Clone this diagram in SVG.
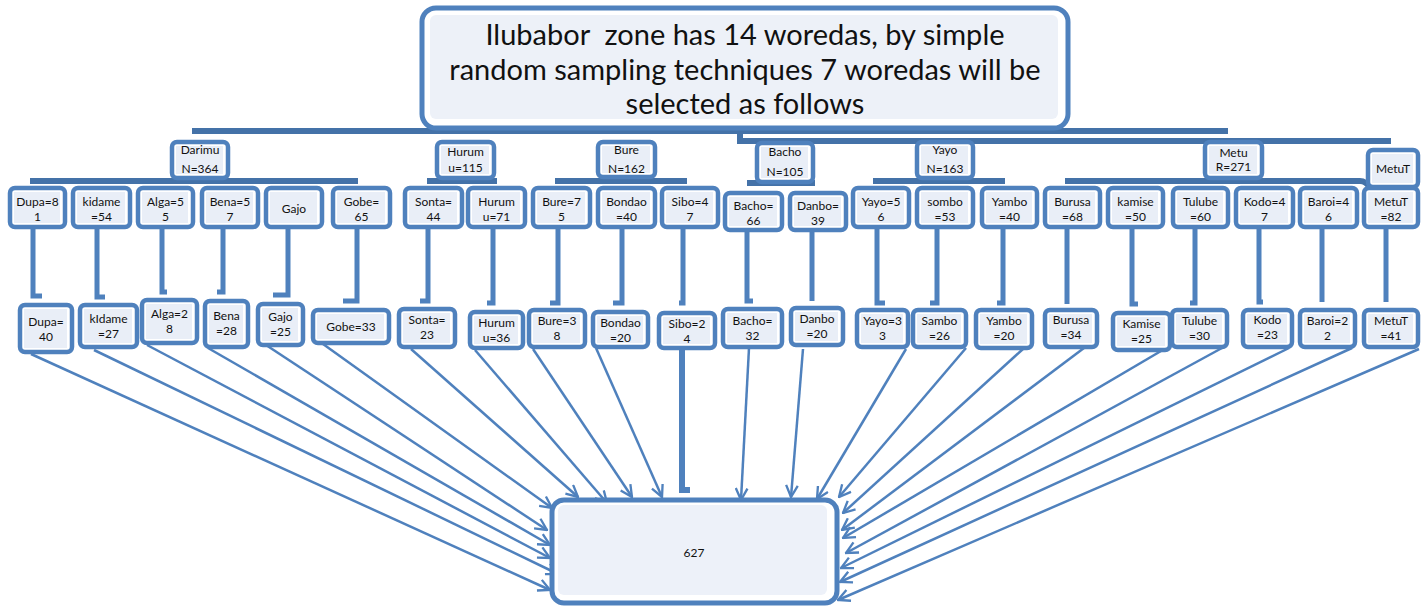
<svg xmlns="http://www.w3.org/2000/svg" width="1421" height="606" viewBox="0 0 1421 606">
<style>
.b{fill:#fff;stroke:#4F81BD;stroke-width:4.5}
.in{fill:#E9EEF7}
.t{font-family:Lato,"Liberation Sans",sans-serif;font-size:12px;fill:#111;text-anchor:middle}
.tt{font-family:Lato,"Liberation Sans",sans-serif;font-size:29px;fill:#111;text-anchor:middle;white-space:pre}
.c{fill:none;stroke:#4F81BD;stroke-width:5}
.bar{fill:none;stroke:#4472A8;stroke-width:6}
.a{fill:none;stroke:#4F81BD;stroke-width:2.5;marker-end:url(#arr)}
</style>
<defs>
<marker id="arr" viewBox="0 0 12 12" refX="11" refY="6" markerWidth="14" markerHeight="14" markerUnits="userSpaceOnUse" orient="auto">
<path d="M1,1 L11,6 L1,11" fill="none" stroke="#4F81BD" stroke-width="2"/>
</marker>
</defs>
<rect width="1421" height="606" fill="#fff"/>

<g id="connectors">
<path class="bar" d="M192,131 H1228"/>
<path class="bar" d="M740,131 V141 H1391"/>
<path class="bar" d="M30,181 H358"/>
<path class="bar" d="M427,181 H497"/>
<path class="bar" d="M555,181 H687"/>
<path class="bar" d="M747,183 H815"/>
<path class="bar" d="M873,181 H1005"/>
<path class="bar" d="M1065,181 H1360 Q1366,181 1370,188"/>
<path class="c" d="M33,227 V296 H42"/>
<path class="c" d="M97,227 V297 H105"/>
<path class="c" d="M162,227 V292 H167"/>
<path class="c" d="M223,227 V292 H217"/>
<path class="c" d="M288,227 V295 H273"/>
<path class="c" d="M357,227 V301 H343"/>
<path class="c" d="M428,227 V301 H420"/>
<path class="c" d="M493,227 V303 H487"/>
<path class="c" d="M558,227 V303 H550"/>
<path class="c" d="M622,227 V303 H613"/>
<path class="c" d="M683,227 V303 H679"/>
<path class="c" d="M747,230 V301 H753"/>
<path class="c" d="M812,230 V301"/>
<path class="c" d="M877,227 V303 H885"/>
<path class="c" d="M937,227 V303 H930"/>
<path class="c" d="M1003,227 V303 H997"/>
<path class="c" d="M1067,227 V304"/>
<path class="c" d="M1132,227 V304 H1138"/>
<path class="c" d="M1195,227 V303 H1190"/>
<path class="c" d="M1259,227 V302 H1263"/>
<path class="c" d="M1322,227 V302"/>
<path class="c" d="M1386,227 V302"/>
<path class="c" style="stroke-width:6" d="M682,350 V490 H690"/>
<path class="a" d="M31,354 L550,590"/>
<path class="a" d="M94,350 L558,574"/>
<path class="a" d="M147,345 L550,558"/>
<path class="a" d="M208,348 L550,545"/>
<path class="a" d="M266,345 L547,530"/>
<path class="a" d="M323,344 L552,508"/>
<path class="a" d="M411,349 L578,497"/>
<path class="a" d="M475,350 L607,503"/>
<path class="a" d="M533,349 L632,497"/>
<path class="a" d="M596,348 L662,497"/>
<path class="a" d="M749,348 L741,500"/>
<path class="a" d="M803,349 L791,497"/>
<path class="a" d="M906,349 L817,499"/>
<path class="a" d="M966,348 L839,497"/>
<path class="a" d="M1023,349 L843,513"/>
<path class="a" d="M1084,348 L842,530"/>
<path class="a" d="M1161,351 L843,538"/>
<path class="a" d="M1222,348 L846,553"/>
<path class="a" d="M1289,348 L841,568"/>
<path class="a" d="M1352,348 L840,582"/>
<path class="a" d="M1419,349 L838,600"/>
</g>

<g id="title"><rect class="b" style="stroke-width:5" x="422" y="8" width="646" height="120" rx="14"/><rect class="in" style="fill:#EDF1F8" x="430" y="15" width="628" height="104" rx="6"/>
<text class="tt" x="745" y="45" xml:space="preserve">Ilubabor  zone has 14 woredas, by simple</text>
<text class="tt" x="745" y="80">random sampling techniques 7 woredas will be</text>
<text class="tt" x="745" y="114">selected as follows</text></g>

<g id="w-darimu"><rect class="b" x="172" y="142" width="56" height="36" rx="5"/><rect class="in" x="176" y="146" width="47" height="28"/><text class="t" x="200" y="154">Darimu</text><text class="t" x="200" y="173">N=364</text></g>
<g id="w-hurum"><rect class="b" x="437" y="142" width="57" height="36" rx="5"/><rect class="in" x="441" y="146" width="48" height="28"/><text class="t" x="465.5" y="156">Hurum</text><text class="t" x="465.5" y="172">u=115</text></g>
<g id="w-bure"><rect class="b" x="598" y="142" width="57" height="35" rx="5"/><rect class="in" x="602" y="146" width="48" height="27"/><text class="t" x="626.5" y="154">Bure</text><text class="t" x="626.5" y="173">N=162</text></g>
<g id="w-bacho"><rect class="b" x="757" y="143" width="56" height="39" rx="5"/><rect class="in" x="761" y="147" width="47" height="31"/><text class="t" x="785" y="156">Bacho</text><text class="t" x="785" y="176">N=105</text></g>
<g id="w-yayo"><rect class="b" x="917" y="142" width="56" height="36" rx="5"/><rect class="in" x="921" y="146" width="47" height="28"/><text class="t" x="945" y="154">Yayo</text><text class="t" x="945" y="173">N=163</text></g>
<g id="w-metu"><rect class="b" x="1205" y="142" width="57" height="36" rx="5"/><rect class="in" x="1209" y="146" width="48" height="28"/><text class="t" x="1233.5" y="157">Metu</text><text class="t" x="1233.5" y="171">R=271</text></g>
<g id="w-metut"><rect class="b" x="1368" y="150" width="50" height="37" rx="5"/><rect class="in" x="1372" y="154" width="41" height="29"/><text class="t" x="1393" y="173">MetuT</text></g>

<g id="k-dupa"><rect class="b" x="10" y="188" width="55" height="39" rx="5"/><rect class="in" x="14" y="192" width="46" height="31"/><text class="t" x="37.5" y="206">Dupa=8</text><text class="t" x="37.5" y="221">1</text></g>
<g id="k-kidame"><rect class="b" x="73" y="188" width="57" height="39" rx="5"/><rect class="in" x="77" y="192" width="48" height="31"/><text class="t" x="101.5" y="206">kidame</text><text class="t" x="101.5" y="221">=54</text></g>
<g id="k-alga"><rect class="b" x="138" y="188" width="55" height="39" rx="5"/><rect class="in" x="142" y="192" width="46" height="31"/><text class="t" x="165.5" y="206">Alga=5</text><text class="t" x="165.5" y="221">5</text></g>
<g id="k-bena"><rect class="b" x="202" y="188" width="56" height="39" rx="5"/><rect class="in" x="206" y="192" width="47" height="31"/><text class="t" x="230" y="206">Bena=5</text><text class="t" x="230" y="221">7</text></g>
<g id="k-gajo"><rect class="b" x="266" y="188" width="56" height="39" rx="5"/><rect class="in" x="270" y="192" width="47" height="31"/><text class="t" x="294" y="213">Gajo</text></g>
<g id="k-gobe"><rect class="b" x="333" y="188" width="57" height="39" rx="5"/><rect class="in" x="337" y="192" width="48" height="31"/><text class="t" x="361.5" y="206">Gobe=</text><text class="t" x="361.5" y="221">65</text></g>
<g id="k-sonta"><rect class="b" x="405" y="188" width="57" height="39" rx="5"/><rect class="in" x="409" y="192" width="48" height="31"/><text class="t" x="433.5" y="206">Sonta=</text><text class="t" x="433.5" y="221">44</text></g>
<g id="k-hurum"><rect class="b" x="468" y="188" width="57" height="39" rx="5"/><rect class="in" x="472" y="192" width="48" height="31"/><text class="t" x="496.5" y="206">Hurum</text><text class="t" x="496.5" y="221">u=71</text></g>
<g id="k-bure"><rect class="b" x="533" y="188" width="57" height="39" rx="5"/><rect class="in" x="537" y="192" width="48" height="31"/><text class="t" x="561.5" y="206">Bure=7</text><text class="t" x="561.5" y="221">5</text></g>
<g id="k-bondao"><rect class="b" x="598" y="188" width="57" height="39" rx="5"/><rect class="in" x="602" y="192" width="48" height="31"/><text class="t" x="626.5" y="206">Bondao</text><text class="t" x="626.5" y="221">=40</text></g>
<g id="k-sibo"><rect class="b" x="662" y="188" width="56" height="39" rx="5"/><rect class="in" x="666" y="192" width="47" height="31"/><text class="t" x="690" y="206">Sibo=4</text><text class="t" x="690" y="221">7</text></g>
<g id="k-bacho"><rect class="b" x="725" y="193" width="57" height="37" rx="5"/><rect class="in" x="729" y="197" width="48" height="29"/><text class="t" x="753.5" y="210">Bacho=</text><text class="t" x="753.5" y="225">66</text></g>
<g id="k-danbo"><rect class="b" x="790" y="193" width="56" height="37" rx="5"/><rect class="in" x="794" y="197" width="47" height="29"/><text class="t" x="818" y="210">Danbo=</text><text class="t" x="818" y="225">39</text></g>
<g id="k-yayo"><rect class="b" x="853" y="188" width="56" height="39" rx="5"/><rect class="in" x="857" y="192" width="47" height="31"/><text class="t" x="881" y="206">Yayo=5</text><text class="t" x="881" y="221">6</text></g>
<g id="k-sombo"><rect class="b" x="917" y="188" width="56" height="39" rx="5"/><rect class="in" x="921" y="192" width="47" height="31"/><text class="t" x="945" y="206">sombo</text><text class="t" x="945" y="221">=53</text></g>
<g id="k-yambo"><rect class="b" x="982" y="188" width="55" height="39" rx="5"/><rect class="in" x="986" y="192" width="46" height="31"/><text class="t" x="1009.5" y="206">Yambo</text><text class="t" x="1009.5" y="221">=40</text></g>
<g id="k-burusa"><rect class="b" x="1045" y="188" width="55" height="39" rx="5"/><rect class="in" x="1049" y="192" width="46" height="31"/><text class="t" x="1072.5" y="206">Burusa</text><text class="t" x="1072.5" y="221">=68</text></g>
<g id="k-kamise"><rect class="b" x="1108" y="188" width="55" height="39" rx="5"/><rect class="in" x="1112" y="192" width="46" height="31"/><text class="t" x="1135.5" y="206">kamise</text><text class="t" x="1135.5" y="221">=50</text></g>
<g id="k-tulube"><rect class="b" x="1173" y="188" width="55" height="39" rx="5"/><rect class="in" x="1177" y="192" width="46" height="31"/><text class="t" x="1200.5" y="206">Tulube</text><text class="t" x="1200.5" y="221">=60</text></g>
<g id="k-kodo"><rect class="b" x="1236" y="188" width="57" height="39" rx="5"/><rect class="in" x="1240" y="192" width="48" height="31"/><text class="t" x="1264.5" y="206">Kodo=4</text><text class="t" x="1264.5" y="221">7</text></g>
<g id="k-baroi"><rect class="b" x="1300" y="188" width="57" height="39" rx="5"/><rect class="in" x="1304" y="192" width="48" height="31"/><text class="t" x="1328.5" y="206">Baroi=4</text><text class="t" x="1328.5" y="221">6</text></g>
<g id="k-metut"><rect class="b" x="1364" y="188" width="54" height="39" rx="5"/><rect class="in" x="1368" y="192" width="45" height="31"/><text class="t" x="1391" y="206">MetuT</text><text class="t" x="1391" y="221">=82</text></g>

<g id="s-dupa"><rect class="b" x="20" y="305" width="52" height="47" rx="5"/><rect class="in" x="24" y="309" width="43" height="39"/><text class="t" x="46" y="326">Dupa=</text><text class="t" x="46" y="341">40</text></g>
<g id="s-kidame"><rect class="b" x="80" y="305" width="57" height="42" rx="5"/><rect class="in" x="84" y="309" width="48" height="34"/><text class="t" x="108.5" y="323">kIdame</text><text class="t" x="108.5" y="338">=27</text></g>
<g id="s-alga"><rect class="b" x="142" y="300" width="55" height="43" rx="5"/><rect class="in" x="146" y="304" width="46" height="35"/><text class="t" x="169.5" y="318">Alga=2</text><text class="t" x="169.5" y="333">8</text></g>
<g id="s-bena"><rect class="b" x="205" y="301" width="43" height="46" rx="5"/><rect class="in" x="209" y="305" width="34" height="38"/><text class="t" x="226.5" y="320">Bena</text><text class="t" x="226.5" y="335">=28</text></g>
<g id="s-gajo"><rect class="b" x="258" y="304" width="45" height="41" rx="5"/><rect class="in" x="262" y="308" width="36" height="33"/><text class="t" x="280.5" y="321">Gajo</text><text class="t" x="280.5" y="336">=25</text></g>
<g id="s-gobe"><rect class="b" x="313" y="310" width="76" height="33" rx="5"/><rect class="in" x="317" y="314" width="67" height="25"/><text class="t" x="351" y="331">Gobe=33</text></g>
<g id="s-sonta"><rect class="b" x="399" y="309" width="56" height="38" rx="5"/><rect class="in" x="403" y="313" width="47" height="30"/><text class="t" x="427" y="324">Sonta=</text><text class="t" x="427" y="339">23</text></g>
<g id="s-hurum"><rect class="b" x="470" y="312" width="53" height="36" rx="5"/><rect class="in" x="474" y="316" width="44" height="28"/><text class="t" x="496.5" y="327">Hurum</text><text class="t" x="496.5" y="342">u=36</text></g>
<g id="s-bure"><rect class="b" x="529" y="310" width="56" height="37" rx="5"/><rect class="in" x="533" y="314" width="47" height="29"/><text class="t" x="557" y="325">Bure=3</text><text class="t" x="557" y="340">8</text></g>
<g id="s-bondao"><rect class="b" x="593" y="312" width="55" height="35" rx="5"/><rect class="in" x="597" y="316" width="46" height="27"/><text class="t" x="620.5" y="327">Bondao</text><text class="t" x="620.5" y="342">=20</text></g>
<g id="s-sibo"><rect class="b" x="659" y="313" width="56" height="35" rx="5"/><rect class="in" x="663" y="317" width="47" height="27"/><text class="t" x="687" y="328">Sibo=2</text><text class="t" x="687" y="343">4</text></g>
<g id="s-bacho"><rect class="b" x="723" y="309" width="59" height="38" rx="5"/><rect class="in" x="727" y="313" width="50" height="30"/><text class="t" x="752.5" y="325">Bacho=</text><text class="t" x="752.5" y="340">32</text></g>
<g id="s-danbo"><rect class="b" x="791" y="308" width="52" height="37" rx="5"/><rect class="in" x="795" y="312" width="43" height="29"/><text class="t" x="817" y="323">Danbo</text><text class="t" x="817" y="338">=20</text></g>
<g id="s-yayo"><rect class="b" x="857" y="310" width="51" height="37" rx="5"/><rect class="in" x="861" y="314" width="42" height="29"/><text class="t" x="882.5" y="325">Yayo=3</text><text class="t" x="882.5" y="340">3</text></g>
<g id="s-sambo"><rect class="b" x="913" y="310" width="53" height="37" rx="5"/><rect class="in" x="917" y="314" width="44" height="29"/><text class="t" x="939.5" y="325">Sambo</text><text class="t" x="939.5" y="340">=26</text></g>
<g id="s-yambo"><rect class="b" x="976" y="310" width="56" height="38" rx="5"/><rect class="in" x="980" y="314" width="47" height="30"/><text class="t" x="1004" y="325">Yambo</text><text class="t" x="1004" y="340">=20</text></g>
<g id="s-burusa"><rect class="b" x="1045" y="310" width="52" height="37" rx="5"/><rect class="in" x="1049" y="314" width="43" height="29"/><text class="t" x="1071" y="324">Burusa</text><text class="t" x="1071" y="339">=34</text></g>
<g id="s-kamise"><rect class="b" x="1113" y="313" width="57" height="37" rx="5"/><rect class="in" x="1117" y="317" width="48" height="29"/><text class="t" x="1141.5" y="328">Kamise</text><text class="t" x="1141.5" y="343">=25</text></g>
<g id="s-tulube"><rect class="b" x="1172" y="310" width="55" height="37" rx="5"/><rect class="in" x="1176" y="314" width="46" height="29"/><text class="t" x="1199.5" y="325">Tulube</text><text class="t" x="1199.5" y="340">=30</text></g>
<g id="s-kodo"><rect class="b" x="1243" y="310" width="49" height="37" rx="5"/><rect class="in" x="1247" y="314" width="40" height="29"/><text class="t" x="1267.5" y="324">Kodo</text><text class="t" x="1267.5" y="339">=23</text></g>
<g id="s-baroi"><rect class="b" x="1300" y="310" width="55" height="37" rx="5"/><rect class="in" x="1304" y="314" width="46" height="29"/><text class="t" x="1327.5" y="325">Baroi=2</text><text class="t" x="1327.5" y="340">2</text></g>
<g id="s-metut"><rect class="b" x="1364" y="310" width="54" height="37" rx="5"/><rect class="in" x="1368" y="314" width="45" height="29"/><text class="t" x="1391" y="325">MetuT</text><text class="t" x="1391" y="340">=41</text></g>

<g id="total"><rect class="b" style="stroke-width:5" x="552" y="500" width="285" height="103" rx="12"/><rect class="in" style="fill:#EDF1F9" x="558" y="505" width="269" height="90" rx="6"/><text class="t" x="694" y="557">627</text></g>
</svg>
